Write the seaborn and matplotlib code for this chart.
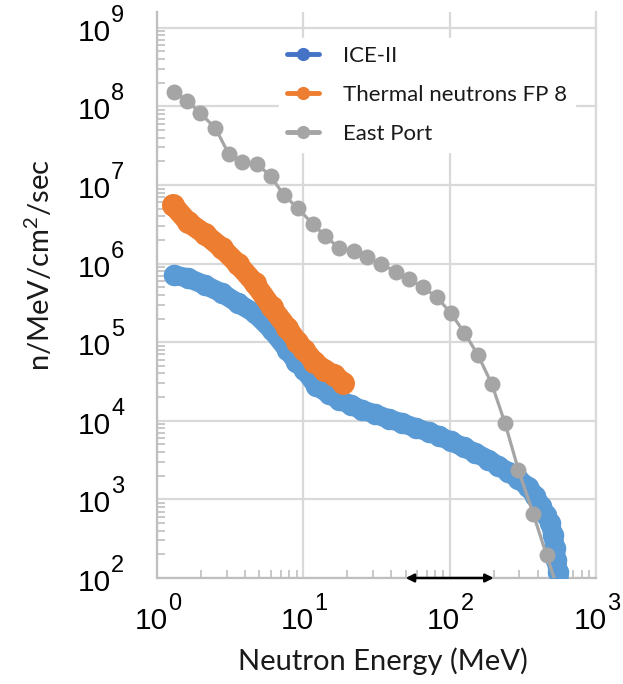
import numpy as np
import pandas as pd
import matplotlib
matplotlib.use("Agg")
import matplotlib.pyplot as plt
import matplotlib.ticker as mticker
import matplotlib.transforms as mtransforms
from matplotlib.lines import Line2D
import seaborn as sns

# Neutron spectra (energy in MeV, flux in n/MeV/cm^2/sec)
ice_energy = [1.305, 1.625, 2.12, 2.77, 3.56, 4.64, 6.06, 7.78, 8.96, 10.16,
              12.25, 15.0, 17.6, 21.2, 25.2, 30.9, 38.5, 47.1, 58.7, 71.9,
              84.2, 101.6, 124.5, 150, 184, 215, 252, 294, 344, 385,
              422, 457, 487, 510, 526, 535, 551, 569]
ice_flux = [7.16e5, 6.56e5, 5.34e5, 4.23e5, 3.15e5, 2.35e5, 1.43e5, 7.96e4, 5.60e4, 4.43e4,
            2.77e4, 2.19e4, 1.84e4, 1.59e4, 1.37e4, 1.22e4, 1.05e4, 9.4e3, 8.1e3, 7.2e3,
            6.4e3, 5.5e3, 4.6e3, 3.9e3, 3.2e3, 2.66e3, 2.23e3, 1.82e3, 1.44e3, 1.10e3,
            8.2e2, 6.3e2, 5.0e2, 3.5e2, 2.4e2, 1.7e2, 1.19e2, 81.5]

fp8_energy = [1.285, 1.625, 2.12, 2.77, 3.56, 4.64, 6.06, 7.78, 9.1, 10.16,
              11.9, 13.9, 16.3, 18.7]
fp8_flux = [5.57e6, 3.38e6, 2.38e6, 1.58e6, 9.9e5, 5.66e5, 2.80e5, 1.52e5, 1.01e5, 7.96e4,
            5.60e4, 4.43e4, 3.83e4, 3.03e4]

east_energy = [1.31, 1.61, 1.96, 2.51, 3.09, 3.80, 4.81, 5.97, 7.35, 9.15,
               11.6, 14.1, 17.6, 22.2, 27.4, 33.8, 42.7, 52.6, 65.8, 82.0,
               102, 126, 156, 194, 239, 295, 373, 459, 597]
east_flux = [1.51e8, 1.18e8, 8.3e7, 5.26e7, 2.48e7, 1.94e7, 1.85e7, 1.30e7, 7.46e6, 5.06e6,
             3.19e6, 2.24e6, 1.57e6, 1.46e6, 1.20e6, 9.9e5, 7.9e5, 6.37e5, 4.99e5, 3.72e5,
             2.33e5, 1.32e5, 6.87e4, 2.94e4, 9.3e3, 2.37e3, 6.5e2, 1.96e2, 45]

series_names = ["ICE-II", "Thermal neutrons FP 8", "East Port"]
x_decades = [0, 1, 2, 3]
y_decades = [2, 3, 4, 5, 6, 7, 8, 9]
arrow_span = [50, 200]

sns.set_theme(style="white")
plt.rcParams["mathtext.default"] = "regular"

BLUE = "#5B9BD5"
BLUE_KEY = "#4472C4"
ORANGE = "#ED7D31"
GRAY = "#A5A5A5"
AXIS = "#BFBFBF"
GRID = "#D9D9D9"
INK = "#1a1a1a"

fig = plt.figure(figsize=(6.23, 6.84), dpi=100)
ax = fig.add_axes([157 / 623, 1 - 578 / 684, (596 - 157) / 623, (578 - 12) / 684])

ice = pd.DataFrame({"E": ice_energy, "F": ice_flux})
fp8 = pd.DataFrame({"E": fp8_energy, "F": fp8_flux})
east = pd.DataFrame({"E": east_energy, "F": east_flux})

sns.lineplot(data=ice, x="E", y="F", sort=False, ax=ax, color=BLUE, lw=14,
             marker="o", markersize=15.5, markeredgewidth=0, zorder=3,
             solid_capstyle="round", solid_joinstyle="round")
sns.lineplot(data=fp8, x="E", y="F", sort=False, ax=ax, color=ORANGE, lw=15,
             marker="o", markersize=16.5, markeredgewidth=0, zorder=4,
             solid_capstyle="round", solid_joinstyle="round")
sns.lineplot(data=east, x="E", y="F", sort=False, ax=ax, color=GRAY, lw=2.3,
             marker="o", markersize=11.5, markeredgewidth=0, zorder=5)

ax.set_xscale("log")
ax.set_yscale("log")
ax.set_xlim(1, 1000)
ax.set_ylim(1e2, 10 ** 9.2)

ax.xaxis.set_major_locator(mticker.FixedLocator([10.0 ** k for k in x_decades]))
ax.yaxis.set_major_locator(mticker.FixedLocator([10.0 ** k for k in y_decades]))
ax.xaxis.set_minor_locator(mticker.LogLocator(base=10, subs=np.arange(2, 10), numticks=20))
ax.yaxis.set_minor_locator(mticker.LogLocator(base=10, subs=np.arange(2, 10), numticks=20))
ax.xaxis.set_major_formatter(mticker.NullFormatter())
ax.yaxis.set_major_formatter(mticker.NullFormatter())
ax.xaxis.set_minor_formatter(mticker.NullFormatter())
ax.yaxis.set_minor_formatter(mticker.NullFormatter())

ax.grid(True, which="major", color=GRID, lw=1.6)
ax.set_axisbelow(True)
for side in ["left", "bottom"]:
    ax.spines[side].set_color(AXIS)
    ax.spines[side].set_linewidth(1.6)
ax.spines["top"].set_visible(False)
ax.spines["right"].set_color(GRID)
ax.spines["right"].set_linewidth(1.6)

ax.tick_params(which="both", direction="in", color=AXIS, width=1.2)
ax.tick_params(which="major", length=0)
ax.tick_params(which="minor", length=6)
ax.tick_params(axis="y", which="minor", left=True)
ax.tick_params(axis="x", which="minor", bottom=True)

# power-of-ten tick labels with a large raised exponent
base_kw = dict(fontsize=21.5, fontfamily="Liberation Sans", color="black", clip_on=False)
exp_kw = dict(fontsize=17, fontfamily="Liberation Sans", color="black", clip_on=False)
xtrans = ax.get_xaxis_transform()
ytrans = ax.get_yaxis_transform()
for k in x_decades:
    tb = mtransforms.offset_copy(xtrans, fig=fig, x=-6, y=-43, units="dots")
    te = mtransforms.offset_copy(xtrans, fig=fig, x=11, y=-26, units="dots")
    ax.text(10.0 ** k, 0, "10", transform=tb, ha="center", va="center", **base_kw)
    ax.text(10.0 ** k, 0, str(k), transform=te, ha="left", va="center", **exp_kw)
for k in y_decades:
    tb = mtransforms.offset_copy(ytrans, fig=fig, x=-46, y=-5, units="dots")
    te = mtransforms.offset_copy(ytrans, fig=fig, x=-46, y=12, units="dots")
    ax.text(0, 10.0 ** k, "10", transform=tb, ha="right", va="center", **base_kw)
    ax.text(0, 10.0 ** k, str(k), transform=te, ha="left", va="center", **exp_kw)

ax.set_xlabel("Neutron Energy (MeV)", fontsize=21, fontfamily="Lato", color=INK)
ax.set_ylabel("n/MeV/cm$^2$/sec", fontsize=21, fontfamily="Lato", color=INK)
ax.xaxis.set_label_coords(0.515, -0.122)
ax.yaxis.set_label_coords(-0.232, 0.553)

# energy range marker along the bottom axis
ax.annotate("", xy=(arrow_span[0], 1e2), xytext=(arrow_span[1], 1e2),
            arrowprops=dict(arrowstyle="<|-|>", color="black", lw=1.8,
                            mutation_scale=12, shrinkA=0, shrinkB=0),
            annotation_clip=False, zorder=6)

handles = [Line2D([0], [0], color=c, lw=3.5, marker="o", markersize=9.5, markeredgewidth=0)
           for c in (BLUE_KEY, ORANGE, GRAY)]
leg = ax.legend(handles, series_names, loc="upper left",
                bbox_to_anchor=(279 / 623, 1 - 38 / 684), bbox_transform=fig.transFigure,
                frameon=True, facecolor="white", edgecolor="white", framealpha=1,
                fancybox=False, prop={"family": "Lato", "size": 16},
                handlelength=1.44, handletextpad=1.08, labelspacing=0.86,
                borderpad=0.35, borderaxespad=0)
leg.set_zorder(10)
for t in leg.get_texts():
    t.set_color(INK)

fig.savefig("out.png", dpi=100)
